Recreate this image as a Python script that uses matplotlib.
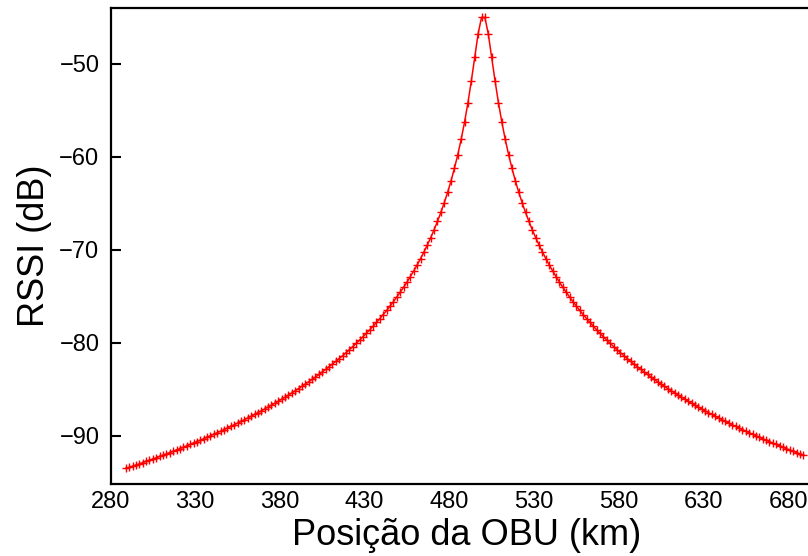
import numpy as np
import matplotlib
matplotlib.use("Agg")
import matplotlib.pyplot as plt

plt.rcParams['font.family'] = ['Liberation Sans', 'DejaVu Sans']

# OBU positions (km): one sample every 2 km, odd values 289 .. 689
pos_start, pos_stop, pos_step = 289, 689, 2

# RSSI (dB), before the antenna (x = 289 .. 499)
rssi_before = [
    -93.53, -93.41, -93.28, -93.16, -93.03, -92.90, -92.77, -92.64, -92.51, -92.37,
    -92.24, -92.10, -91.96, -91.82, -91.68, -91.54, -91.39, -91.24, -91.10, -90.95,
    -90.80, -90.64, -90.49, -90.33, -90.17, -90.01, -89.85, -89.68, -89.52, -89.35,
    -89.18, -89.00, -88.83, -88.65, -88.47, -88.28, -88.10, -87.91, -87.72, -87.52,
    -87.33, -87.13, -86.92, -86.72, -86.51, -86.30, -86.08, -85.86, -85.63, -85.41,
    -85.17, -84.94, -84.70, -84.45, -84.20, -83.95, -83.69, -83.42, -83.15, -82.87,
    -82.59, -82.30, -82.01, -81.71, -81.40, -81.08, -80.76, -80.42, -80.08, -79.73,
    -79.37, -79.00, -78.62, -78.23, -77.82, -77.40, -76.97, -76.53, -76.06, -75.59,
    -75.09, -74.57, -74.04, -73.48, -72.89, -72.28, -71.64, -70.96, -70.25, -69.50,
    -68.71, -67.86, -66.96, -65.99, -64.95, -63.83, -62.60, -61.25, -59.77, -58.12,
    -56.27, -54.18, -51.84, -49.28, -46.77, -45.02,
]

# RSSI (dB) after the antenna (x = 501 .. 689)
rssi_after = [
    -45.02, -46.77, -49.28, -51.84, -54.18, -56.27, -58.12, -59.77, -61.25, -62.60,
    -63.83, -64.95, -65.99, -66.96, -67.86, -68.71, -69.50, -70.25, -70.96, -71.64,
    -72.28, -72.89, -73.48, -74.04, -74.57, -75.09, -75.59, -76.06, -76.53, -76.97,
    -77.40, -77.82, -78.23, -78.62, -79.00, -79.37, -79.73, -80.08, -80.42, -80.76,
    -81.08, -81.40, -81.71, -82.01, -82.30, -82.59, -82.87, -83.15, -83.42, -83.69,
    -83.95, -84.20, -84.45, -84.70, -84.94, -85.17, -85.41, -85.63, -85.86, -86.08,
    -86.30, -86.51, -86.72, -86.92, -87.13, -87.33, -87.52, -87.72, -87.91, -88.10,
    -88.28, -88.47, -88.65, -88.83, -89.00, -89.18, -89.35, -89.52, -89.68, -89.85,
    -90.01, -90.17, -90.33, -90.49, -90.64, -90.80, -90.95, -91.10, -91.24, -91.39,
    -91.54, -91.68, -91.82, -91.96, -92.10,
]

x_ticks = [280, 330, 380, 430, 480, 530, 580, 630, 680]
y_ticks = [-90, -80, -70, -60, -50]

pos = np.arange(pos_start, pos_stop + 1, pos_step)
rssi = np.array(rssi_before + rssi_after)

fig = plt.figure(figsize=(8.08, 5.56), dpi=100)
# axes run past the right edge of the picture, as in the original crop
ax = fig.add_axes([0.1368, 0.1295, 0.8805, 0.8561])

ax.plot(pos, rssi, color='red', lw=1.1, marker='+', ms=6, mew=1.0)

ax.set_xlim(280, 700)
ax.set_ylim(-95.2, -44.0)
ax.set_xticks(x_ticks)
ax.set_yticks(y_ticks)
ax.tick_params(axis='x', length=0, pad=5, labelsize=17)
ax.tick_params(axis='y', direction='in', length=7, width=1.5, pad=8, labelsize=17)

for s in ax.spines.values():
    s.set_linewidth(1.6)

ax.set_xlabel('Posição da OBU (km)', fontsize=26, labelpad=4)
ax.set_ylabel('RSSI (dB)', fontsize=26, labelpad=5)

fig.savefig('out.png', dpi=100)
